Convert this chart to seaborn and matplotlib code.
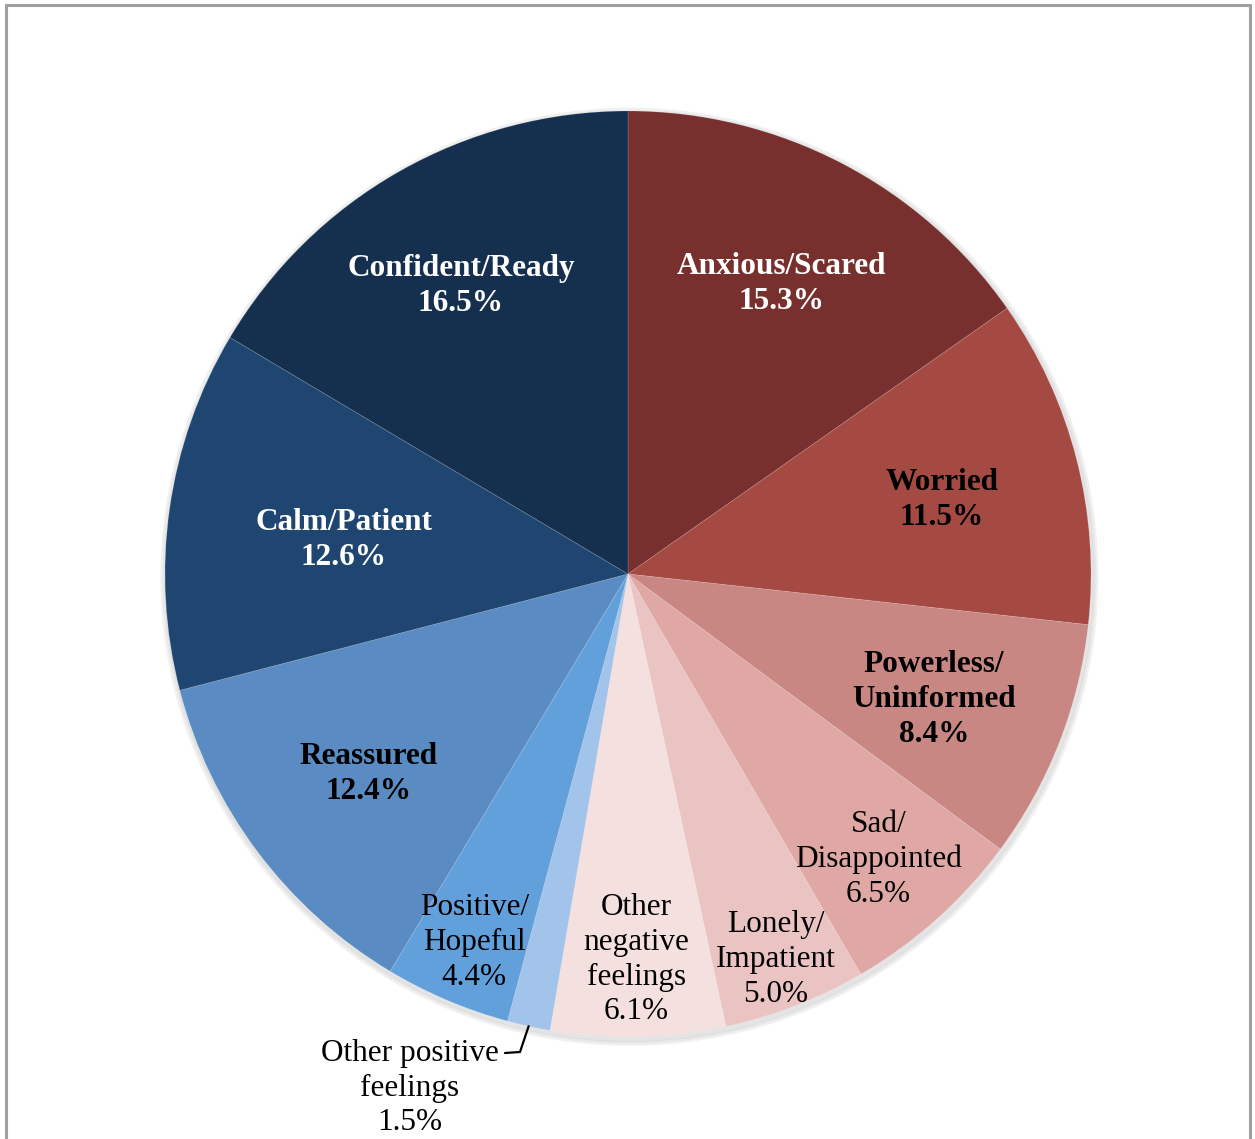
import matplotlib
matplotlib.use("Agg")
import matplotlib.pyplot as plt
import seaborn as sns
import numpy as np
from matplotlib.lines import Line2D

sns.set_theme(style="white")
plt.rcParams['font.family'] = ['Liberation Serif', 'DejaVu Serif']

# ---- data ----
categories = ["Anxious/Scared", "Worried", "Powerless/\nUninformed", "Sad/\nDisappointed",
              "Lonely/\nImpatient", "Other\nnegative\nfeelings", "Other positive\nfeelings",
              "Positive/\nHopeful", "Reassured", "Calm/Patient", "Confident/Ready"]
values = [15.3, 11.5, 8.4, 6.5, 5.0, 6.1, 1.5, 4.4, 12.4, 12.6, 16.5]
pct_labels = ["15.3%", "11.5%", "8.4%", "6.5%", "5.0%", "6.1%", "1.5%", "4.4%", "12.4%", "12.6%", "16.5%"]

# ---- styles ----
colors = ["#77302D", "#A54A43", "#C88783", "#E0A8A5", "#EAC4C3", "#F3E0DF",
          "#A2C4EA", "#62A0DC", "#5A8CC3", "#1F4670", "#152F4E"]
text_colors = ["white", "black", "black", "black", "black", "black", "black",
               "black", "black", "white", "white"]
weights = ["bold", "bold", "bold", "normal", "normal", "normal", "normal",
           "normal", "bold", "bold", "bold"]
label_r = [0.72, 0.70, 0.71, 0.81, 0.88, 0.82, None, 0.85, 0.70, 0.62, 0.73]

W, H = 1255, 1139
cx, cy, R = 628, 574, 463
FS = 22.5
LS = 1.27
DY = -6 / R
fig = plt.figure(figsize=(W / 100, H / 100), dpi=100)
ax = fig.add_axes([0, 0, 1, 1])

# subtle shadow
for i in range(3):
    sh = plt.Circle((0.003, -0.006), 1.0 + 0.004 * (i + 1), color="black", alpha=0.035, zorder=0)
    ax.add_patch(sh)

wedges, _ = ax.pie(values, colors=colors, startangle=90, counterclock=False,
                   radius=1.0, wedgeprops=dict(edgecolor=(1, 1, 1, 0.15), linewidth=0.6))
for w in wedges:
    w.set_zorder(2)

for i, w in enumerate(wedges):
    mid = np.deg2rad((w.theta1 + w.theta2) / 2)
    txt = categories[i] + "\n" + pct_labels[i]
    if label_r[i] is None:
        ex, ey = np.cos(mid), np.sin(mid)
        tx, ty = (410 - cx) / R, (cy - 1082) / R + DY
        elbow = ((520 - cx) / R, (cy - 1052) / R)
        end = ((505 - cx) / R, (cy - 1053) / R)
        ax.plot([ex, elbow[0], end[0]], [ey, elbow[1], end[1]], color="black", lw=1.6,
                zorder=3, solid_joinstyle="miter")
        ax.text(tx, ty, txt, ha="center", va="center", fontsize=FS, color=text_colors[i],
                fontweight=weights[i], linespacing=LS, zorder=4)
    else:
        r = label_r[i]
        ax.text(r * np.cos(mid), r * np.sin(mid) + DY, txt, ha="center", va="center",
                fontsize=FS, color=text_colors[i], fontweight=weights[i],
                linespacing=LS, zorder=4)

ax.set_xlim(-cx / R, (W - cx) / R)
ax.set_ylim(-(H - cy) / R, cy / R)
ax.set_aspect("auto")
ax.axis("off")

# frame border (bottom cut off)
bc = "#A0A0A0"
fig.add_artist(Line2D([6 / W, 6 / W], [0, 1 - 5 / H], color=bc, lw=2.2))
fig.add_artist(Line2D([6 / W, 1250 / W], [1 - 5 / H, 1 - 5 / H], color=bc, lw=2.2))
fig.add_artist(Line2D([1250 / W, 1250 / W], [0, 1 - 5 / H], color=bc, lw=2.2))

fig.savefig("out.png", dpi=100, facecolor="white")
